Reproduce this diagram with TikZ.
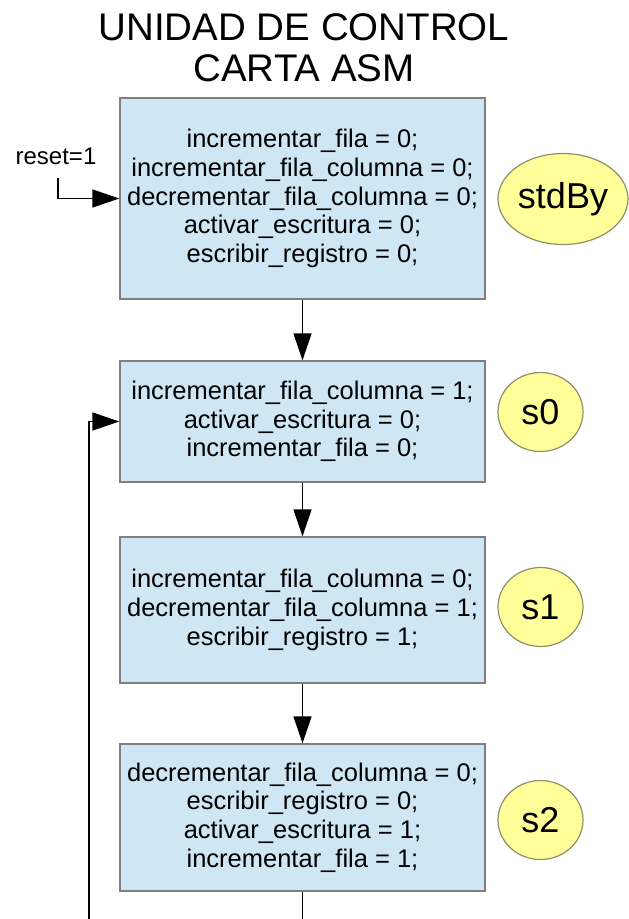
\documentclass[tikz,border=0pt]{standalone}
\usepackage{fontspec}
\setmainfont{Liberation Sans}
\usetikzlibrary{arrows.meta,shapes.geometric}

\definecolor{boxfill}{HTML}{CFE7F5}
\definecolor{boxline}{HTML}{7F7F7F}
\definecolor{statefill}{HTML}{FFFF99}
\definecolor{stateline}{HTML}{8E8E6C}

\tikzset{
  statebox/.style={draw=boxline, fill=boxfill, line width=1.3pt, inner sep=0pt,
    minimum width=365pt, align=center,
    font=\fontsize{25.5}{28.7}\selectfont},
  statename/.style={draw=stateline, fill=statefill, line width=1.2pt, ellipse,
    inner sep=0pt, font=\fontsize{36}{40}\selectfont},
  flow/.style={line width=1.5pt, -{Triangle[length=27pt,width=18pt]}},
  titletext/.style={font=\fontsize{38.5}{41}\selectfont, anchor=base}
}

\begin{document}
\begin{tikzpicture}[x=1pt, y=-1pt]
  \useasboundingbox (0,0) rectangle (629,919);
  \clip (0,0) rectangle (629,919);

  % title
  \node[titletext] (t1) at (304,40) {UNIDAD DE CONTROL};
  \node[titletext] (t2) at (304,81) {CARTA ASM};

  % state boxes
  \node[statebox, minimum height=201pt] (bstdby) at (302.5,198.5) {%
    incrementar\_fila = 0;\\
    incrementar\_fila\_columna = 0;\\
    decrementar\_fila\_columna = 0;\\
    activar\_escritura = 0;\\
    escribir\_registro = 0;};
  \node[statebox, minimum height=121pt] (bs0) at (302.5,421.5) {%
    incrementar\_fila\_columna = 1;\\
    activar\_escritura = 0;\\
    incrementar\_fila = 0;};
  \node[statebox, minimum height=146pt] (bs1) at (302.5,610) {%
    incrementar\_fila\_columna = 0;\\
    decrementar\_fila\_columna = 1;\\
    escribir\_registro = 1;};
  \node[statebox, minimum height=147pt] (bs2) at (302.5,817.5) {%
    decrementar\_fila\_columna = 0;\\
    escribir\_registro = 0;\\
    activar\_escritura = 1;\\
    incrementar\_fila = 1;};

  % state names
  \node[statename, minimum width=130pt, minimum height=91pt] (nstdby) at (563,199) {stdBy};
  \node[statename, minimum width=85pt, minimum height=79pt] (ns0) at (540.5,412) {s0};
  \node[statename, minimum width=85pt, minimum height=79pt] (ns1) at (540.5,607) {s1};
  \node[statename, minimum width=85pt, minimum height=79pt] (ns2) at (540.5,820) {s2};

  % reset entry
  \node[font=\fontsize{24}{28}\selectfont] (reset) at (56,156) {reset=1};
  \coordinate (rst) at (58,178);
  \draw[flow] (rst) |- (bstdby.west);

  % transitions
  \draw[flow] (bstdby.south) -- (bs0.north);
  \draw[flow] (bs0.south) -- (bs1.north);
  \draw[flow] (bs1.south) -- (bs2.north);

  % return from s2 to s0
  \coordinate (loopbottom) at (89,940);
  \draw[flow] (bs2.south) -- (bs2.south |- loopbottom) -- (loopbottom) |- (bs0.west);
\end{tikzpicture}
\end{document}
